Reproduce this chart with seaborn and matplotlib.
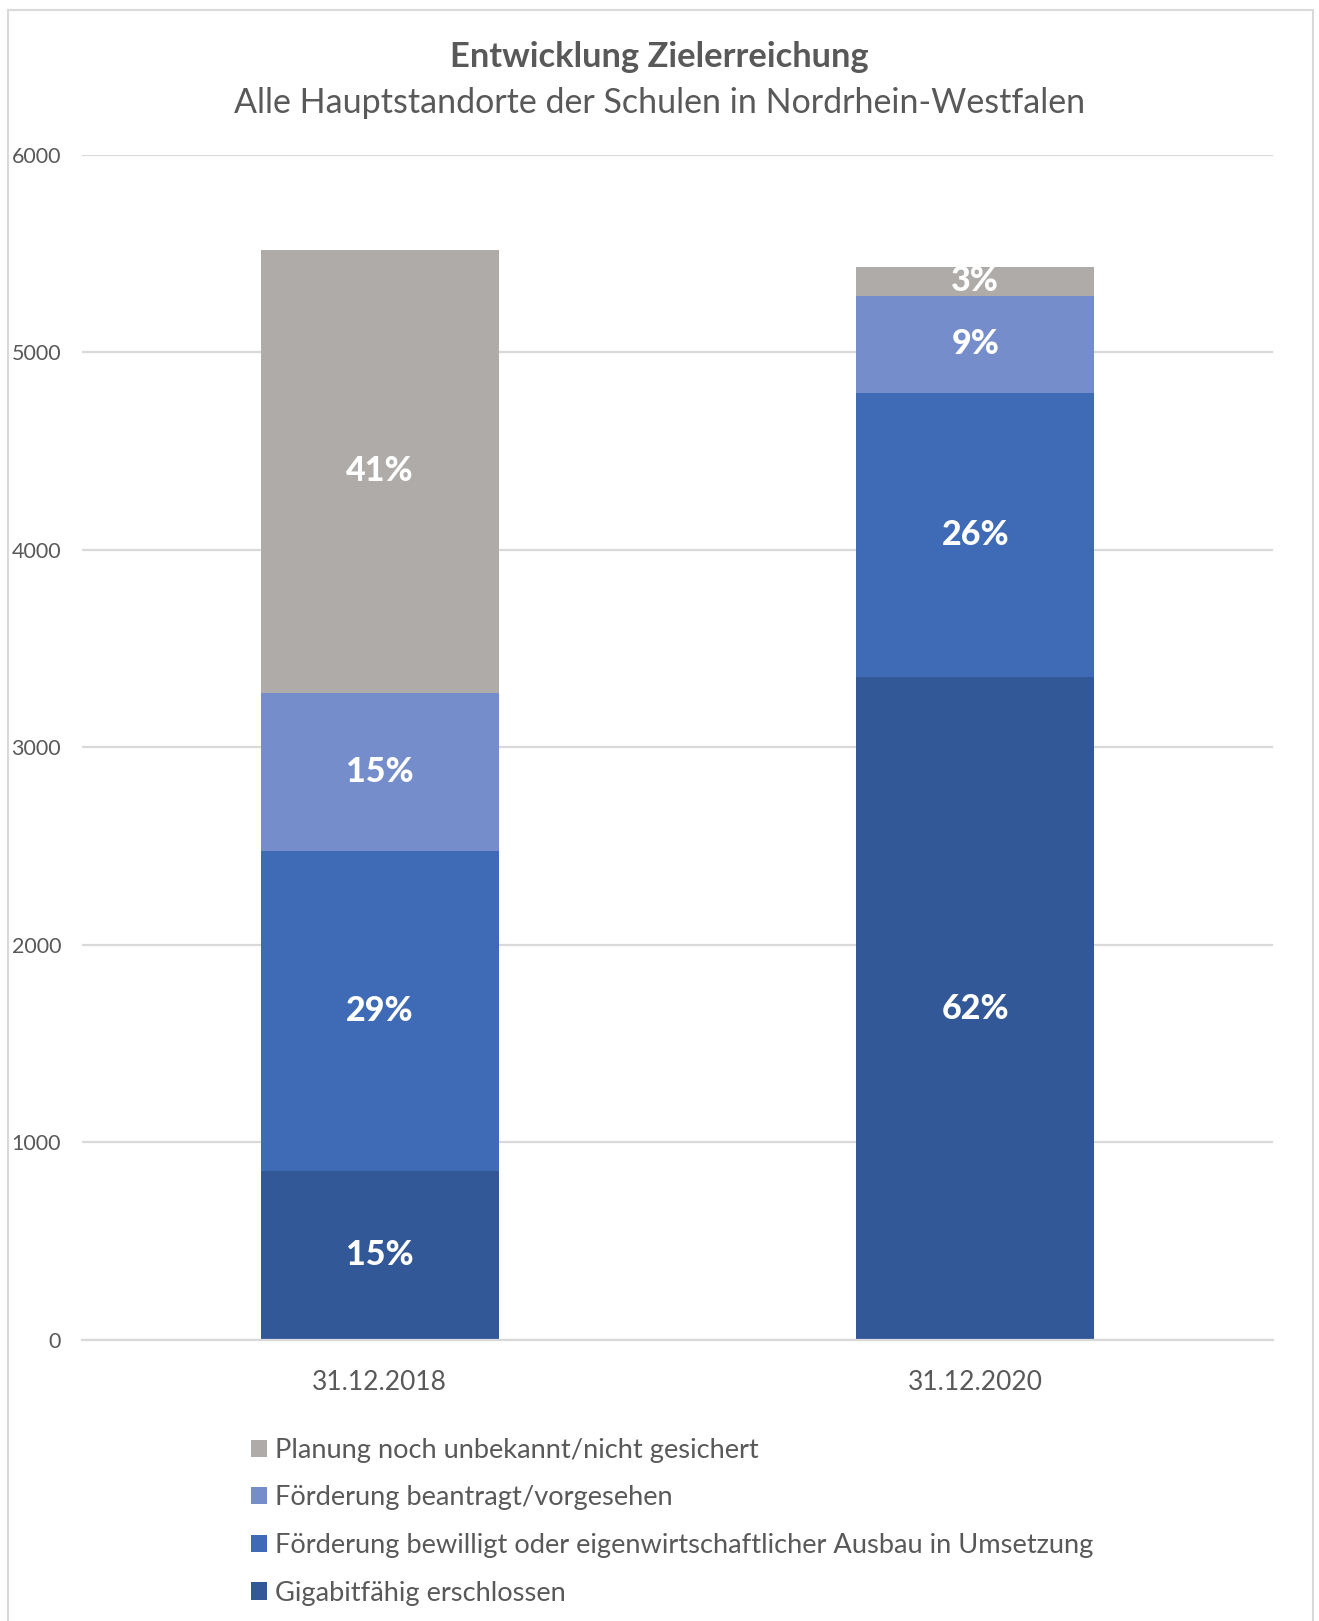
import numpy as np
import pandas as pd
import matplotlib
matplotlib.use("Agg")
import matplotlib.pyplot as plt
import seaborn as sns
from matplotlib.patches import Rectangle, Patch

# ---- data ----
dates = ["31.12.2018", "31.12.2020"]
series = [
    "Gigabitfähig erschlossen",
    "Förderung bewilligt oder eigenwirtschaftlicher Ausbau in Umsetzung",
    "Förderung beantragt/vorgesehen",
    "Planung noch unbekannt/nicht gesichert",
]
gigabit = [856, 3356]
bewilligt = [1622, 1440]
beantragt = [799, 491]
planung = [2242, 147]
labels_gigabit = ["15%", "62%"]
labels_bewilligt = ["29%", "26%"]
labels_beantragt = ["15%", "9%"]
labels_planung = ["41%", "3%"]
colors = ["#325898", "#3E6AB6", "#758DCA", "#AEABA8"]

values = [gigabit, bewilligt, beantragt, planung]
labels = [labels_gigabit, labels_bewilligt, labels_beantragt, labels_planung]

sns.set_theme(style="white")
plt.rcParams["font.family"] = ["Lato", "DejaVu Sans"]

fig = plt.figure(figsize=(13.19, 16.21), dpi=100)
ax = fig.add_axes([0.0622, 0.1734, 0.903, 0.731])

cum = np.cumsum(np.array(values), axis=0)
bottoms = np.vstack([np.zeros(len(dates)), cum[:-1]])

# draw from top layer down so stacked appearance results
for i in reversed(range(len(series))):
    df = pd.DataFrame({"date": dates, "value": cum[i]})
    sns.barplot(data=df, x="date", y="value", color=colors[i], width=0.4,
                saturation=1, ax=ax, zorder=2, linewidth=0, edgecolor="none")

for i in range(len(series)):
    for j in range(len(dates)):
        yc = bottoms[i][j] + values[i][j] / 2
        ax.text(j, yc, labels[i][j], ha="center", va="center", color="white",
                fontsize=24.5, fontweight="black", zorder=5)

ax.set_ylim(0, 6000)
ax.set_xlim(-0.5, 1.5)
ax.set_yticks(np.arange(0, 6001, 1000))
ax.yaxis.grid(True, color="#D9D9D9", linewidth=1.6, zorder=0)
ax.set_axisbelow(True)
for s in ["top", "right", "left"]:
    ax.spines[s].set_visible(False)
ax.spines["bottom"].set_color("#D9D9D9")
ax.spines["bottom"].set_linewidth(1.6)
ax.set_xlabel("")
ax.set_ylabel("")
ax.tick_params(axis="y", length=0, pad=15, labelsize=15.5, labelcolor="#595959")
ax.set_xticks([-0.5, 0.5, 1.5], minor=True)
ax.tick_params(axis="x", which="minor", length=6, width=1.6, color="#D9D9D9")
ax.tick_params(axis="x", which="major", length=0, pad=22, labelsize=19, labelcolor="#595959")
if ax.get_legend() is not None:
    ax.get_legend().remove()

# legend
handles = [Patch(facecolor=colors[i], edgecolor="none") for i in reversed(range(len(series)))]
leg_labels = [series[i] for i in reversed(range(len(series)))]
fig.legend(handles, leg_labels, loc="upper left", bbox_to_anchor=(0.190, 0.113),
           frameon=False, fontsize=19.6, labelcolor="#595959",
           handlelength=0.6, handleheight=0.6, handletextpad=0.3, labelspacing=0.83,
           borderaxespad=0, borderpad=0)

# titles
fig.text(0.5, 1 - 57 / 1621, "Entwicklung Zielerreichung", ha="center", va="center",
         fontsize=24.8, fontweight="bold", color="#595959")
fig.text(0.5, 1 - 103 / 1621, "Alle Hauptstandorte der Schulen in Nordrhein-Westfalen",
         ha="center", va="center", fontsize=24.5, color="#595959")

# chart frame
fig.patches.append(Rectangle((8 / 1319, -0.01), (1313 - 8) / 1319, 1.01 - 10 / 1621,
                             transform=fig.transFigure, fill=False,
                             edgecolor="#D9D9D9", linewidth=1.5))

fig.savefig("out.png", dpi=100)
